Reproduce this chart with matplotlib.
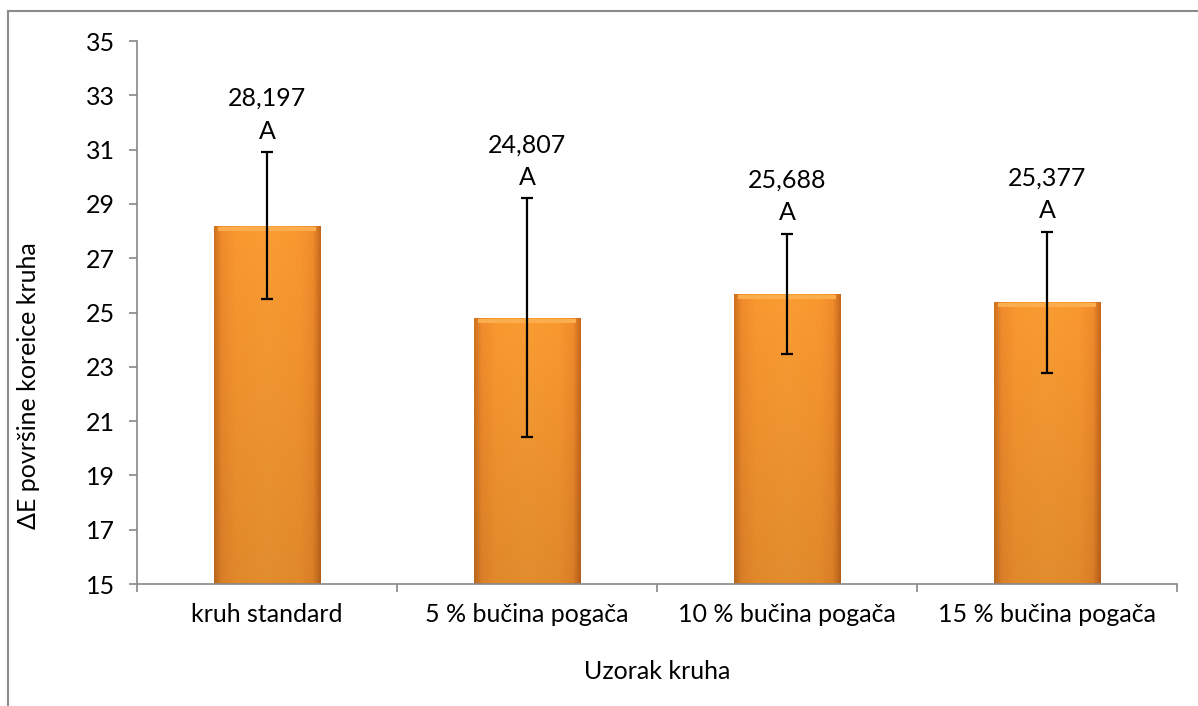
import numpy as np
import matplotlib.pyplot as plt
from matplotlib.patches import Rectangle
from matplotlib.colors import LinearSegmentedColormap

plt.rcParams['font.family'] = ['Lato', 'DejaVu Sans']

uzorci = ['kruh standard', '5 % bučina pogača', '10 % bučina pogača', '15 % bučina pogača']
vrijednosti = [28.197, 24.807, 25.688, 25.377]
greske = [2.71, 4.40, 2.21, 2.60]
oznake = ['28,197', '24,807', '25,688', '25,377']
slova = ['A', 'A', 'A', 'A']

fs = 18

fig = plt.figure(figsize=(11.98, 7.06), dpi=100)
ax = fig.add_axes([0.1144, 0.1728, 0.8681, 0.7691])

x = np.arange(len(uzorci))
sirina = 0.41
stupci = ax.bar(x, vrijednosti, width=sirina, color='#F7941D', edgecolor='none', zorder=2)

# gradijent na stupcima (tamniji rubovi, svjetliji vrh)
cmap = LinearSegmentedColormap.from_list(
    'nar', [(0, '#D0721F'), (0.07, '#F08C2C'), (0.2, '#F9982F'), (0.5, '#FA9C33'),
            (0.8, '#F9982F'), (0.93, '#F08C2C'), (1, '#C8681C')])
grad = np.tile(np.linspace(0, 1, 200), (100, 1))
shade = np.linspace(0.90, 1.0, 100)[:, None]
for s in stupci:
    x0, y0 = s.get_x(), s.get_y()
    w, h = s.get_width(), s.get_height()
    rgb = cmap(grad)[:, :, :3] * shade[:, :, None]
    im = ax.imshow(rgb, extent=[x0, x0 + w, 15, y0 + h], origin='lower', aspect='auto', zorder=2.5)
    im.set_clip_path(s)
    # svjetliji gornji rub
    ax.add_patch(Rectangle((x0 + w * 0.04, y0 + h - 0.18), w * 0.92, 0.14, color='#FCAE4F', lw=0, zorder=2.6))

ax.errorbar(x, vrijednosti, yerr=greske, fmt='none', ecolor='black', elinewidth=1.6, capsize=4.5, capthick=1.6, zorder=3)

for i in range(len(uzorci)):
    vrh = vrijednosti[i] + greske[i]
    ax.text(x[i], vrh + 0.35, slova[i], ha='center', va='bottom', fontsize=fs)
    ax.text(x[i], vrh + 1.55, oznake[i], ha='center', va='bottom', fontsize=fs)

ax.set_xlim(-0.5, 3.5)
ax.set_ylim(15, 35)
ax.set_yticks(np.arange(15, 36, 2))
ax.set_xticks(x)
ax.set_xticklabels(uzorci)
ax.set_xticks(np.arange(-0.5, 4, 1), minor=True)
ax.tick_params(axis='x', which='major', length=0, pad=14, labelsize=fs)
ax.tick_params(axis='x', which='minor', length=6, color='#888888', width=1.2)
ax.tick_params(axis='y', length=6, color='#888888', width=1.2, labelsize=fs, pad=10)

for sp in ['top', 'right']:
    ax.spines[sp].set_visible(False)
for sp in ['left', 'bottom']:
    ax.spines[sp].set_color('#888888')
    ax.spines[sp].set_linewidth(1.2)

ax.set_xlabel('Uzorak kruha', fontsize=fs)
ax.xaxis.set_label_coords(0.5, -0.14)
ax.set_ylabel('ΔE površine koreice kruha', fontsize=fs)
ax.yaxis.set_label_coords(-0.093, 0.366)

# okvir grafikona
fig.patches.append(Rectangle((8 / 1198, -0.1), 1.2, 1 - 11 / 706 + 0.1, transform=fig.transFigure,
                             fill=False, edgecolor='#8c8c8c', linewidth=1.5))

fig.savefig('out.png', dpi=100)
